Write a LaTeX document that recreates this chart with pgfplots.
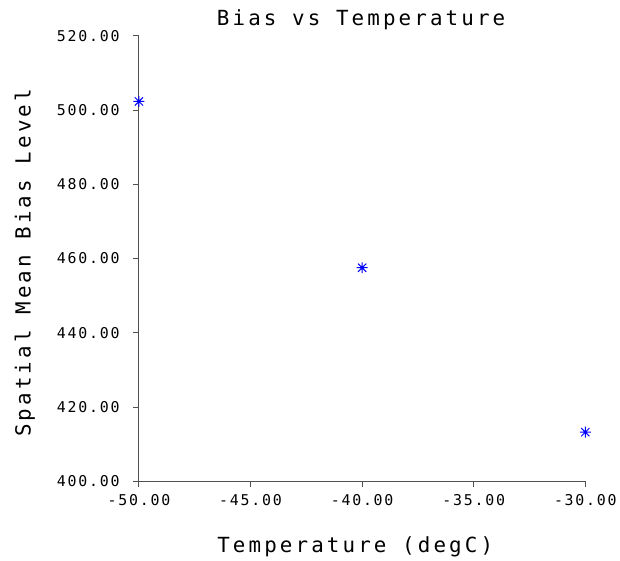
\documentclass[border=0pt]{standalone}
\usepackage{fontspec}
\setmainfont{DejaVu Sans Mono}
\newfontfamily\labfont[LetterSpace=15]{DejaVu Sans Mono}
\newfontfamily\tickfont[LetterSpace=12]{DejaVu Sans Mono}
\usepackage{pgfplots}
\pgfplotsset{compat=1.18}
\definecolor{axgray}{RGB}{80,80,80}
\pgfdeclareplotmark{star8}{%
  \pgfpathmoveto{\pgfqpoint{0pt}{\pgfplotmarksize}}\pgfpathlineto{\pgfqpoint{0pt}{-\pgfplotmarksize}}%
  \pgfpathmoveto{\pgfqpoint{\pgfplotmarksize}{0pt}}\pgfpathlineto{\pgfqpoint{-\pgfplotmarksize}{0pt}}%
  \pgfpathmoveto{\pgfqpoint{0.75\pgfplotmarksize}{0.75\pgfplotmarksize}}\pgfpathlineto{\pgfqpoint{-0.75\pgfplotmarksize}{-0.75\pgfplotmarksize}}%
  \pgfpathmoveto{\pgfqpoint{-0.75\pgfplotmarksize}{0.75\pgfplotmarksize}}\pgfpathlineto{\pgfqpoint{0.75\pgfplotmarksize}{-0.75\pgfplotmarksize}}%
  \pgfusepathqstroke}
\begin{document}
\begin{tikzpicture}[x=1pt,y=1pt]
\begin{axis}[
  at={(0,0)}, anchor=south west,
  scale only axis, width=450pt, height=449pt,
  xmin=-50, xmax=-30, ymin=400, ymax=520,
  axis lines*=left, axis line style={axgray, line width=0.8pt, -},
  xtick={-50,-45,...,-30}, ytick={400,420,...,520},
  tick align=outside, major tick length=6pt,
  tick style={axgray, line width=0.8pt},
  /pgf/number format/assume math mode=true,
  /pgf/number format/.cd, fixed, fixed zerofill, precision=2, use period, 1000 sep={},
  /pgfplots/.cd,
  tick label style={font=\tickfont\fontsize{15}{15}\selectfont},
  xticklabel style={yshift=-4pt},
  yticklabel style={xshift=-10pt},
  clip=false,
]
\addplot[only marks, mark=star8, mark size=5.5pt, blue, mark options={line width=1pt}]
  coordinates {(-50,502.3) (-40,457.5) (-30,413.2)};
\end{axis}
\node[font=\labfont\fontsize{21}{21}\selectfont] at (224,465) {Bias vs Temperature};
\node[font=\labfont\fontsize{21}{21}\selectfont] at (218,-66) {Temperature (degC)};
\node[font=\labfont\fontsize{21}{21}\selectfont, rotate=90] at (-115,220) {Spatial Mean Bias Level};
\path (-140,-74) rectangle (480,485);
\end{tikzpicture}
\end{document}
